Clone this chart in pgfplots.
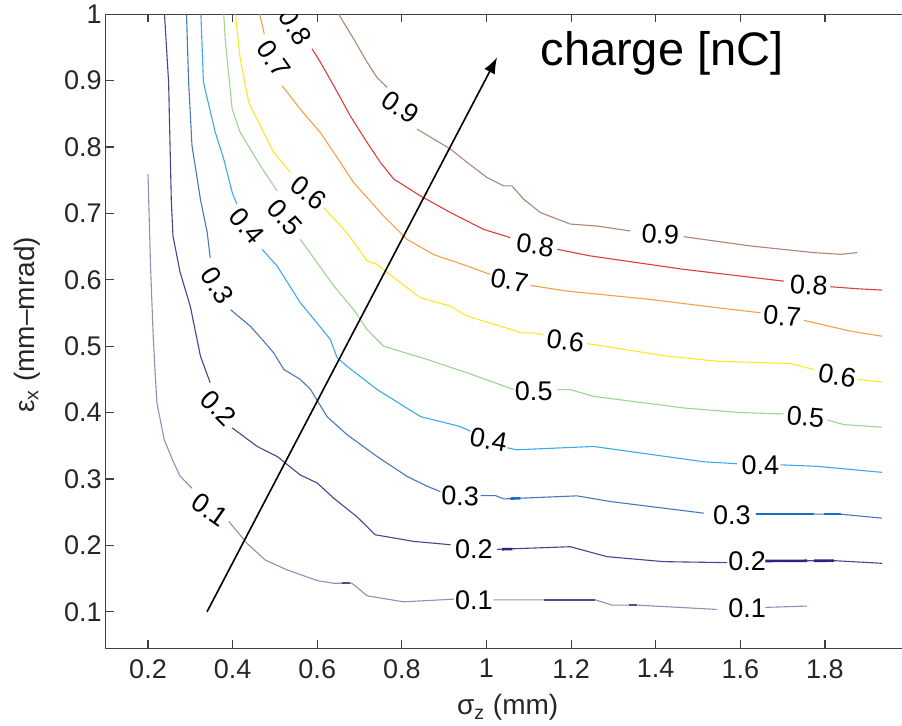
\documentclass[border=0pt]{standalone}
\usepackage{fontspec}
\setmainfont{Liberation Sans}
\usepackage{pgfplots}
\pgfplotsset{compat=1.18}
\usetikzlibrary{arrows.meta}
\definecolor{c1}{RGB}{150,140,180}
\definecolor{c2}{RGB}{75,65,145}
\definecolor{c3}{RGB}{70,120,190}
\definecolor{c4}{RGB}{60,170,230}
\definecolor{c5}{RGB}{160,210,150}
\definecolor{c6}{RGB}{255,230,40}
\definecolor{c7}{RGB}{245,160,70}
\definecolor{c8}{RGB}{225,60,60}
\definecolor{c9}{RGB}{170,135,120}
\definecolor{t1}{RGB}{85,75,135}
\definecolor{t2}{RGB}{45,35,135}
\definecolor{t3}{RGB}{25,110,200}
\newcommand{\lab}{\fontsize{13.5}{16}\selectfont}
\begin{document}
\begin{tikzpicture}
\begin{axis}[
  scale only axis, width=401.95pt, height=317pt,
  xmin=0.1, xmax=2, ymin=0.045, ymax=1,
  xtick={0.2,0.4,0.6,0.8,1,1.2,1.4,1.6,1.8},
  ytick={0.1,0.2,0.3,0.4,0.5,0.6,0.7,0.8,0.9,1},
  tick align=inside, major tick length=4pt,
  axis line style={black!75, line width=0.6pt},
  every tick/.style={black!75, line width=0.6pt},
  ticklabel style={font=\fontsize{13.5}{16}\selectfont, text=black!85},
  /pgf/number format/assume math mode=true,
  yticklabel style={xshift=1.5pt},
  xticklabel style={yshift=-2pt},
  xlabel={σ\textsubscript{z} (mm)},
  ylabel={ε\textsubscript{x} (mm–mrad)},
  every axis x label/.style={at={(axis description cs:0.5,-0.105)}, anchor=base, font=\fontsize{14}{17}\selectfont, text=black!85},
  every axis y label/.style={at={(axis description cs:-0.098,0.51)}, anchor=center, rotate=90, font=\fontsize{14}{17}\selectfont, text=black!85},
  cl/.style={line width=0.55pt, mark=none},
  th/.style={line width=1.3pt, mark=none},
  every node/.append style={inner sep=0pt},
]
% ---- 0.1
\addplot[cl,c1] coordinates {(0.200,0.759) (0.206,0.62) (0.212,0.52) (0.216,0.47) (0.221,0.415) (0.238,0.36) (0.259,0.327) (0.276,0.304) (0.304,0.286)};
\addplot[cl,c1] coordinates {(0.391,0.236) (0.434,0.203) (0.477,0.178) (0.529,0.163) (0.600,0.147) (0.638,0.143) (0.682,0.143) (0.718,0.124) (0.804,0.115) (0.923,0.119)};
\addplot[cl,c1] coordinates {(1.017,0.118) (1.135,0.118) (1.257,0.118) (1.297,0.110) (1.356,0.110) (1.545,0.1035)};
\addplot[cl,c1] coordinates {(1.659,0.1066) (1.758,0.1086)};
\addplot[th,t1] coordinates {(1.135,0.118) (1.257,0.118)};
\addplot[th,t1] coordinates {(1.336,0.110) (1.356,0.110)};
\addplot[th,t1] coordinates {(0.659,0.1435) (0.678,0.1435)};
% ---- 0.2
\addplot[cl,c2] coordinates {(0.239,1.0) (0.2487,0.8975) (0.255,0.721) (0.259,0.666) (0.276,0.611) (0.300,0.560) (0.316,0.51) (0.324,0.485) (0.347,0.445)};
\addplot[cl,c2] coordinates {(0.399,0.377) (0.458,0.349) (0.505,0.334) (0.560,0.306) (0.600,0.294) (0.639,0.271) (0.694,0.243) (0.737,0.216) (0.828,0.206) (0.915,0.201)};
\addplot[cl,c2] coordinates {(1.025,0.194) (1.198,0.198) (1.285,0.183) (1.419,0.1755) (1.569,0.174)};
\addplot[cl,c2] coordinates {(1.659,0.1765) (1.821,0.177) (1.935,0.173)};
\addplot[th,t2] coordinates {(1.659,0.1765) (1.758,0.1768)};
\addplot[th,t2] coordinates {(1.7735,0.1768) (1.821,0.177)};
\addplot[th,t2] coordinates {(1.037,0.1942) (1.061,0.1945)};
% ---- 0.3
\addplot[cl,c3] coordinates {(0.291,1.0) (0.296,0.8975) (0.304,0.802) (0.324,0.721) (0.340,0.671) (0.347,0.633)};
\addplot[cl,c3] coordinates {(0.395,0.555) (0.442,0.530) (0.470,0.51) (0.497,0.49) (0.521,0.465) (0.560,0.450) (0.584,0.435) (0.623,0.394) (0.670,0.367) (0.741,0.334) (0.812,0.304) (0.860,0.289) (0.891,0.281)};
\addplot[cl,c3] coordinates {(0.986,0.275) (1.021,0.275) (1.041,0.270) (1.214,0.2746) (1.293,0.266) (1.514,0.2485)};
\addplot[cl,c3] coordinates {(1.636,0.247) (1.837,0.247) (1.935,0.241)};
\addplot[th,t3] coordinates {(1.636,0.247) (1.7735,0.247)};
\addplot[th,t3] coordinates {(1.797,0.247) (1.837,0.247)};
\addplot[th,t3] coordinates {(1.0565,0.2705) (1.080,0.271)};
% ---- 0.4
\addplot[cl,c4] coordinates {(0.325,1.0) (0.331,0.8975) (0.359,0.822) (0.379,0.782) (0.399,0.7315) (0.410,0.714)};
\addplot[cl,c4] coordinates {(0.4695,0.646) (0.505,0.621) (0.560,0.5655) (0.5995,0.535) (0.631,0.51) (0.647,0.4825) (0.670,0.470) (0.741,0.435) (0.844,0.394) (0.938,0.379) (0.962,0.372)};
\addplot[cl,c4] coordinates {(1.049,0.347) (1.072,0.344) (1.253,0.349) (1.513,0.326) (1.592,0.323)};
\addplot[cl,c4] coordinates {(1.695,0.3214) (1.782,0.319) (1.935,0.310)};
% ---- 0.5
\addplot[cl,c5] coordinates {(0.379,1.0) (0.383,0.958) (0.399,0.857) (0.418,0.822) (0.4655,0.772) (0.505,0.734)};
\addplot[cl,c5] coordinates {(0.560,0.661) (0.5995,0.626) (0.639,0.591) (0.686,0.555) (0.718,0.525) (0.757,0.50) (0.86,0.48) (0.954,0.46) (1.0645,0.4347)};
\addplot[cl,c5] coordinates {(1.167,0.4347) (1.198,0.4347) (1.253,0.4245) (1.466,0.407) (1.600,0.400) (1.703,0.398)};
\addplot[cl,c5] coordinates {(1.805,0.389) (1.844,0.382) (1.935,0.378)};
% ---- 0.6
\addplot[cl,c6] coordinates {(0.4064,1.0) (0.418,0.933) (0.438,0.8675) (0.4655,0.832) (0.497,0.792) (0.5365,0.762)};
\addplot[cl,c6] coordinates {(0.615,0.709) (0.670,0.671) (0.718,0.6285) (0.741,0.6233) (0.7965,0.5957) (0.844,0.573) (0.9147,0.5604) (0.954,0.5453) (1.072,0.5227) (1.080,0.520) (1.1116,0.520) (1.135,0.517)};
\addplot[cl,c6] coordinates {(1.238,0.504) (1.427,0.485) (1.545,0.4774) (1.7185,0.474) (1.7737,0.465)};
\addplot[cl,c6] coordinates {(1.876,0.45) (1.935,0.446)};
% ---- 0.7
\addplot[cl,c7] coordinates {(0.464,1.0) (0.475,0.97)};
\addplot[cl,c7] coordinates {(0.517,0.8925) (0.560,0.857) (0.607,0.822) (0.639,0.792) (0.686,0.7465) (0.757,0.696) (0.812,0.661) (0.875,0.638) (0.954,0.621) (1.009,0.608)};
\addplot[cl,c7] coordinates {(1.104,0.5916) (1.19,0.583) (1.3875,0.5705) (1.545,0.558) (1.6475,0.5504)};
\addplot[cl,c7] coordinates {(1.75,0.539) (1.86,0.5227) (1.935,0.515)};
% ---- 0.8
\addplot[cl,c8] coordinates {(0.5877,0.948) (0.6073,0.928) (0.639,0.8925) (0.678,0.847) (0.7177,0.807) (0.749,0.777) (0.781,0.7516) (0.844,0.7264) (0.915,0.7013) (0.993,0.676) (1.0565,0.6636)};
\addplot[cl,c8] coordinates {(1.167,0.646) (1.2457,0.636) (1.466,0.6158) (1.7026,0.598)};
\addplot[cl,c8] coordinates {(1.813,0.5896) (1.876,0.5866) (1.935,0.5845)};
% ---- 0.9
\addplot[cl,c9] coordinates {(0.6506,1.0) (0.686,0.963) (0.7177,0.928) (0.741,0.905) (0.765,0.89)};
\addplot[cl,c9] coordinates {(0.836,0.827) (0.9147,0.797) (0.954,0.777) (1.0015,0.754) (1.0407,0.7415) (1.06,0.7415) (1.088,0.7214) (1.1275,0.7013) (1.198,0.684) (1.2615,0.681) (1.34,0.6736)};
\addplot[cl,c9] coordinates {(1.466,0.665) (1.624,0.651) (1.7735,0.641) (1.837,0.6384) (1.876,0.641)};
% ---- contour labels
\node[font=\lab, rotate=-35] at (axis cs:0.347,0.2535) {0.1};
\node[font=\lab] at (axis cs:0.970,0.118) {0.1};
\node[font=\lab] at (axis cs:1.616,0.105) {0.1};
\node[font=\lab, rotate=-45] at (axis cs:0.367,0.407) {0.2};
\node[font=\lab] at (axis cs:0.970,0.194) {0.2};
\node[font=\lab] at (axis cs:1.616,0.1755) {0.2};
\node[font=\lab, rotate=-58] at (axis cs:0.363,0.591) {0.3};
\node[font=\lab, rotate=-2] at (axis cs:0.938,0.2746) {0.3};
\node[font=\lab] at (axis cs:1.58,0.246) {0.3};
\node[font=\lab, rotate=-50] at (axis cs:0.434,0.681) {0.4};
\node[font=\lab, rotate=-10] at (axis cs:1.005,0.359) {0.4};
\node[font=\lab] at (axis cs:1.6475,0.3214) {0.4};
\node[font=\lab, rotate=-48] at (axis cs:0.5246,0.694) {0.5};
\node[font=\lab] at (axis cs:1.1117,0.432) {0.5};
\node[font=\lab, rotate=-5] at (axis cs:1.754,0.394) {0.5};
\node[font=\lab, rotate=-38] at (axis cs:0.5797,0.7315) {0.6};
\node[font=\lab, rotate=-8] at (axis cs:1.1866,0.5076) {0.6};
\node[font=\lab, rotate=-10] at (axis cs:1.829,0.455) {0.6};
\node[font=\lab, rotate=-55] at (axis cs:0.497,0.933) {0.7};
\node[font=\lab, rotate=-10] at (axis cs:1.0545,0.599) {0.7};
\node[font=\lab, rotate=-5] at (axis cs:1.6988,0.545) {0.7};
\node[font=\lab, rotate=-60] at (axis cs:0.548,0.981) {0.8};
\node[font=\lab, rotate=-8] at (axis cs:1.115,0.652) {0.8};
\node[font=\lab, rotate=-3] at (axis cs:1.7617,0.5916) {0.8};
\node[font=\lab, rotate=-35] at (axis cs:0.7965,0.86) {0.9};
\node[font=\lab, rotate=-4] at (axis cs:1.411,0.6686) {0.9};
% ---- arrow and annotation
\addplot[black, line width=0.8pt, mark=none, -{Latex[length=8pt,width=6pt]}] coordinates {(0.3395,0.1) (1.025,0.935)};
\node[anchor=base west, font=\fontsize{23.5}{28}\selectfont] at (axis cs:1.111,0.9226) {charge [nC]};
\end{axis}
\pgfresetboundingbox
\path[use as bounding box] (-52.85pt,-38.85pt) rectangle (398.15pt,324.15pt);
\end{tikzpicture}
\end{document}
